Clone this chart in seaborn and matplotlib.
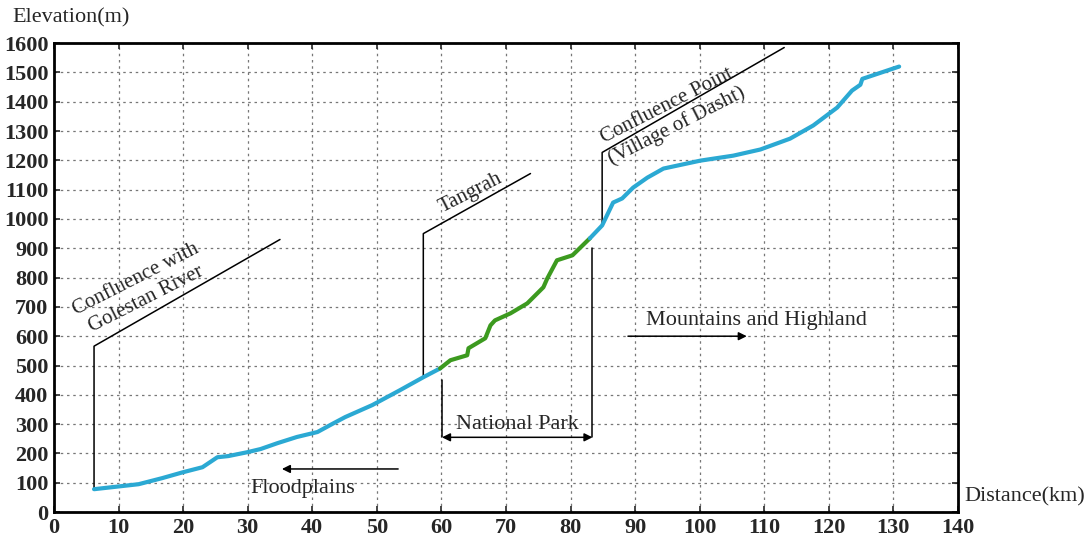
import matplotlib
matplotlib.use("Agg")
import matplotlib.pyplot as plt
import seaborn as sns
import pandas as pd

# ---- data ----
dist_lower = [6.2, 13.1, 16.8, 20, 23, 25.3, 27, 29.9, 32, 34.6, 37.6, 40.8, 43.3, 45.1, 49.3, 53.6, 57.2, 59.8]
elev_lower = [78, 95, 116, 136, 153, 187, 191, 204, 215, 235, 256, 273, 303, 324, 365, 416, 460, 490]

dist_park = [59.8, 61.4, 64, 64.2, 66.8, 67.6, 68.3, 70.7, 73.3, 75.8, 76.4, 77.9, 80.3, 83]
elev_park = [490, 518, 535, 559, 593, 637, 654, 678, 712, 767, 797, 859, 876, 934]

dist_upper = [83, 84.9, 86.6, 88, 89.7, 91.9, 94.4, 100.1, 105.2, 109.4, 114, 117.6, 121.3, 123.6, 124.9, 125.2, 130.9]
elev_upper = [934, 978, 1056, 1070, 1107, 1141, 1172, 1199, 1216, 1237, 1274, 1319, 1380, 1438, 1458, 1478, 1520]

x_ticks = list(range(0, 141, 10))
y_ticks = list(range(0, 1601, 100))

sns.set_style("ticks")
plt.rcParams['font.family'] = ['Liberation Serif', 'DejaVu Serif']

fig = plt.figure(figsize=(10.89, 5.39), dpi=100)
ax = fig.add_axes([0.0496, 0.050, 0.830, 0.870])

blue = "#2BA9D3"
green = "#3C9A1F"
segs = [(dist_lower, elev_lower, blue), (dist_park, elev_park, green), (dist_upper, elev_upper, blue)]
for d, e, c in segs:
    df = pd.DataFrame({"d": d, "e": e})
    sns.lineplot(data=df, x="d", y="e", color=c, lw=3.0, ax=ax, sort=False,
                 solid_capstyle='round', solid_joinstyle='round', zorder=3)

ax.set_xlim(0, 140)
ax.set_ylim(0, 1600)
ax.set_xticks(x_ticks)
ax.set_yticks(y_ticks)
ax.set_xlabel("")
ax.set_ylabel("")
ax.grid(True, linestyle=(0, (2, 3)), color="#777777", lw=0.9)
for s in ax.spines.values():
    s.set_linewidth(2)
    s.set_color("black")
ax.tick_params(direction='in', top=True, right=True, length=4, width=1.2, labelsize=16, pad=4)
for lab in ax.get_xticklabels() + ax.get_yticklabels():
    lab.set_fontweight('bold')

fs = 16
rfs = 15
fig.text(12/1089, 1 - 18/539, "Elevation(m)", fontsize=fs, ha='left', va='center')
fig.text(964/1089, 1 - 497/539, "Distance(km)", fontsize=fs, ha='left', va='center')

k = dict(color='black', lw=1.1, zorder=2)
# Confluence with Golestan River
ax.plot([6.2, 6.2, 35], [78, 566, 930], **k)
ax.text(14.4, 722, "Confluence with\nGolestan River", rotation=27, rotation_mode='anchor',
        ha='center', va='baseline', fontsize=rfs, linespacing=1.2)
# Tangrah
ax.plot([57.2, 57.2, 73.8], [460, 950, 1155], **k)
ax.text(64.8, 1076, "Tangrah", rotation=27, rotation_mode='anchor', ha='center', va='baseline', fontsize=rfs)
# Confluence Point
ax.plot([84.9, 84.9, 113.1], [978, 1227, 1585], **k)
ax.text(96.6, 1313, "Confluence Point\n(Village of Dasht)", rotation=27, rotation_mode='anchor',
        ha='center', va='baseline', fontsize=rfs, linespacing=1.2)
# National Park
ax.plot([60.1, 60.1], [450, 255], **k)
ax.plot([83.4, 83.4], [900, 255], **k)
ax.annotate("", xy=(60.1, 255), xytext=(83.4, 255),
            arrowprops=dict(arrowstyle='<|-|>', color='black', lw=1.1, mutation_scale=12, shrinkA=0, shrinkB=0))
ax.text(71.7, 300, "National Park", ha='center', va='center', fontsize=fs)
# Mountains and Highland
ax.annotate("", xy=(107.3, 600), xytext=(88.9, 600),
            arrowprops=dict(arrowstyle='-|>', color='black', lw=1.1, mutation_scale=12, shrinkA=0, shrinkB=0))
ax.text(108.8, 654, "Mountains and Highland", ha='center', va='center', fontsize=fs)
# Floodplains
ax.annotate("", xy=(35.3, 147), xytext=(53.3, 147),
            arrowprops=dict(arrowstyle='-|>', color='black', lw=1.1, mutation_scale=12, shrinkA=0, shrinkB=0))
ax.text(38.5, 80, "Floodplains", ha='center', va='center', fontsize=fs)

fig.savefig("out.png", dpi=100)
